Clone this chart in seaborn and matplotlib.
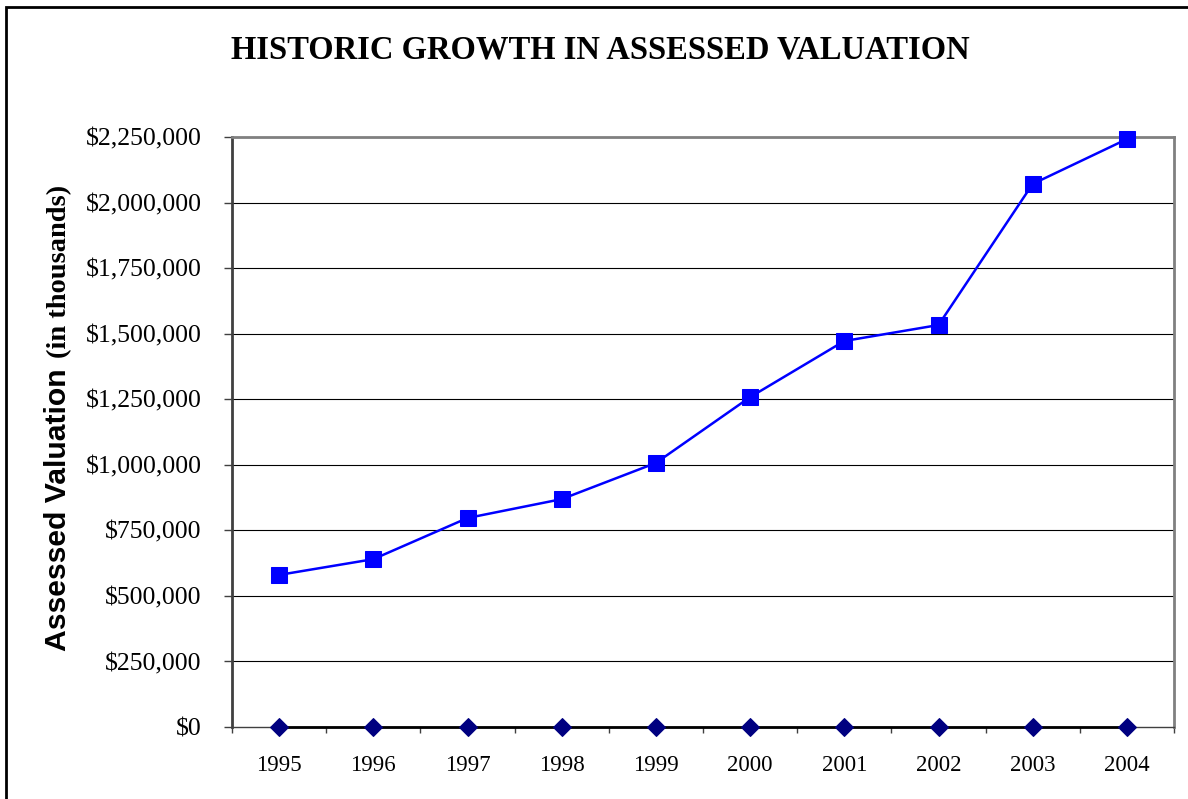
import numpy as np
import pandas as pd
import seaborn as sns
from matplotlib import pyplot as plt
from matplotlib.ticker import FuncFormatter, MultipleLocator, FixedLocator
from matplotlib.patches import Rectangle

years = ['1995', '1996', '1997', '1998', '1999', '2000', '2001', '2002', '2003', '2004']
valuation = [580000, 640000, 797000, 869000, 1007000, 1258000, 1472000, 1533000, 2071000, 2242000]
baseline = [0, 0, 0, 0, 0, 0, 0, 0, 0, 0]

df = pd.DataFrame({'year': years, 'pos': np.arange(len(years)),
                   'valuation': valuation, 'base': baseline})

sns.set_style('white')
plt.rcParams['font.family'] = ['Liberation Serif', 'DejaVu Serif']
plt.rcParams['text.color'] = 'black'
plt.rcParams['xtick.color'] = 'black'
plt.rcParams['ytick.color'] = 'black'

fig = plt.figure(figsize=(11.88, 7.99), dpi=100)
ax = fig.add_axes([232 / 1188, 1 - 727 / 799, (1174 - 232) / 1188, (727 - 137) / 799])

# grid lines
for v in np.arange(250000, 2250001, 250000):
    ax.axhline(v, color='black', lw=0.8, zorder=1)

sns.lineplot(data=df, x='pos', y='base', ax=ax, color='black', lw=2,
             marker='D', markersize=9, markerfacecolor='#000080',
             markeredgecolor='#000080', zorder=3, clip_on=False)
sns.lineplot(data=df, x='pos', y='valuation', ax=ax, color='#0000FF', lw=1.8,
             marker='s', markersize=11, markerfacecolor='#0000FF',
             markeredgecolor='#0000FF', zorder=4, clip_on=False)

ax.set_xlim(-0.5, len(years) - 0.5)
ax.set_ylim(0, 2250000)
ax.yaxis.set_major_locator(MultipleLocator(250000))
ax.yaxis.set_major_formatter(FuncFormatter(lambda v, p: '${:,.0f}'.format(v)))

ax.xaxis.set_major_locator(FixedLocator(np.arange(-0.5, len(years), 1)))
ax.xaxis.set_minor_locator(FixedLocator(np.arange(len(years))))
ax.set_xticklabels([''] * (len(years) + 1))
ax.set_xticklabels(years, minor=True)
ax.tick_params(axis='x', which='major', direction='out', length=4.5, width=1,
               color='#404040', bottom=True)
ax.tick_params(axis='x', which='minor', length=0, labelsize=16.5, pad=20)
ax.tick_params(axis='y', direction='out', length=6, width=1, color='#404040',
               left=True, labelsize=18.5, pad=16)
ax.set_xlabel('')
ax.set_ylabel('')

for s in ['top', 'right']:
    ax.spines[s].set_color('#808080')
    ax.spines[s].set_linewidth(2)
ax.spines['left'].set_color('#404040')
ax.spines['left'].set_linewidth(2)
ax.spines['bottom'].set_color('#404040')
ax.spines['bottom'].set_linewidth(1)

fig.text(600 / 1188, 1 - 50 / 799, 'HISTORIC GROWTH IN ASSESSED VALUATION',
         ha='center', va='center', fontsize=23.5, fontweight='bold')

fig.text(66 / 1188, 1 - 651 / 799, 'Assessed Valuation', rotation=90,
         rotation_mode='anchor', ha='left', va='baseline',
         family=['Liberation Sans', 'DejaVu Sans'], fontsize=21.7, fontweight='bold')
fig.text(66 / 1188, 1 - 358 / 799, '(in thousands)', rotation=90,
         rotation_mode='anchor', ha='left', va='baseline',
         fontsize=20.5, fontweight='bold')

fig.patches.append(Rectangle((6 / 1188, -0.1), 1.2, 1 - 7 / 799 + 0.1,
                             transform=fig.transFigure, fill=False,
                             edgecolor='black', lw=2))

plt.savefig('out.png', dpi=100)
